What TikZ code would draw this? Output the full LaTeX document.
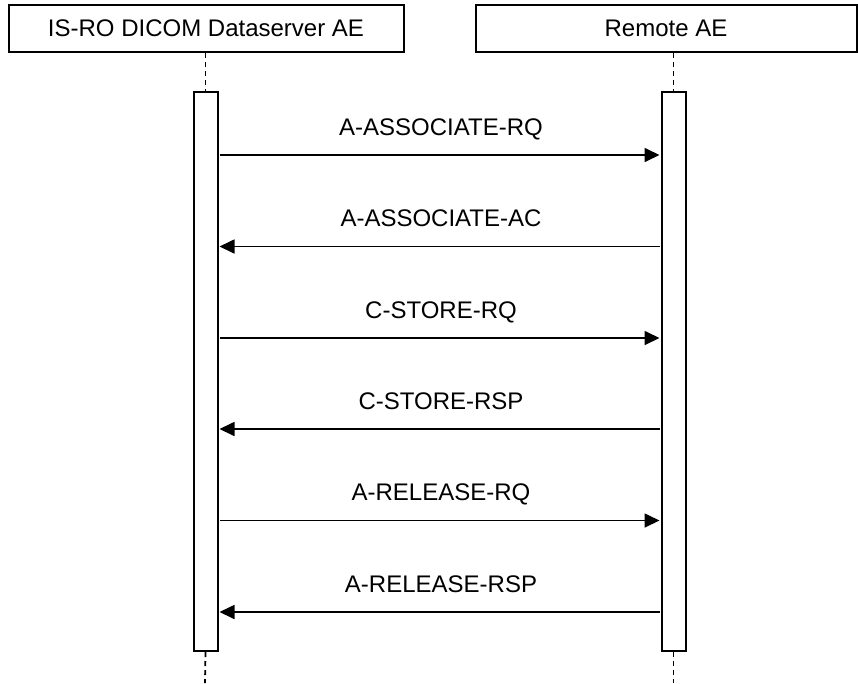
\documentclass[tikz,border=0pt]{standalone}
\usepackage{fontspec}
\setmainfont{Liberation Sans}
\usetikzlibrary{arrows.meta}
\begin{document}
\begin{tikzpicture}[x=1pt,y=-1pt,
  actor/.style={draw,line width=2pt,minimum height=47pt,inner sep=0pt,font=\fontsize{24}{28}\selectfont},
  actbar/.style={draw,line width=2pt,fill=white,minimum width=24pt,minimum height=559pt,inner sep=0pt},
  life/.style={line width=1.8pt,dash pattern=on 5pt off 4pt},
  msg/.style={line width=1.7pt,-{Triangle[length=15pt,width=14pt]}},
  lbl/.style={anchor=base,inner sep=0pt,font=\fontsize{24}{28}\selectfont}]
\useasboundingbox (0,0) rectangle (858,683);
% actors
\node[actor,minimum width=395pt] (a) at (206,28.5) {IS-RO DICOM Dataserver AE};
\node[actor,minimum width=381pt] (b) at (666,28.5) {Remote AE};
% lifelines
\coordinate (aend) at (205,683);
\coordinate (bend) at (673.5,683);
\node[actbar] (la) at (205.5,371.5) {};
\node[actbar] (lb) at (673.5,371.5) {};
\draw[life] (la.north |- a.south) -- (la.north);
\draw[life] (la.south) -- (aend);
\draw[life] (lb.north |- b.south) -- (lb.north);
\draw[life] (lb.south) -- (bend);
% messages
\foreach \i/\y/\t in {1/155/A-ASSOCIATE-RQ,2/246.5/A-ASSOCIATE-AC,3/338/C-STORE-RQ,4/429/C-STORE-RSP,5/520.5/A-RELEASE-RQ,6/612/A-RELEASE-RSP}{
  \coordinate (p\i) at (219.5,\y);
  \coordinate (q\i) at (659.5,\y);
  \node[lbl] (m\i) at (441,\y-20) {\t};
}
\draw[msg] (p1) -- (q1);
\draw[msg] (q2) -- (p2);
\draw[msg] (p3) -- (q3);
\draw[msg] (q4) -- (p4);
\draw[msg] (p5) -- (q5);
\draw[msg] (q6) -- (p6);
\end{tikzpicture}
\end{document}
